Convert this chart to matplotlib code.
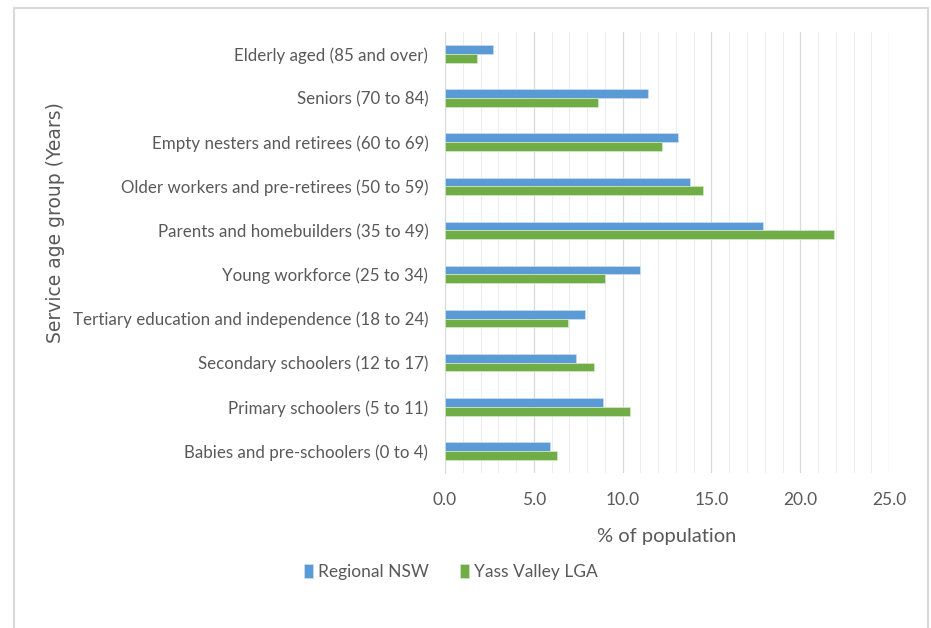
import matplotlib.pyplot as plt
import numpy as np
from matplotlib.patches import Rectangle
from matplotlib.ticker import MultipleLocator

groups = [
    "Elderly aged (85 and over)",
    "Seniors (70 to 84)",
    "Empty nesters and retirees (60 to 69)",
    "Older workers and pre-retirees (50 to 59)",
    "Parents and homebuilders (35 to 49)",
    "Young workforce (25 to 34)",
    "Tertiary education and independence (18 to 24)",
    "Secondary schoolers (12 to 17)",
    "Primary schoolers (5 to 11)",
    "Babies and pre-schoolers (0 to 4)",
]
regional_nsw = [2.7, 11.4, 13.1, 13.8, 17.9, 11.0, 7.9, 7.4, 8.9, 5.9]
yass_valley = [1.8, 8.6, 12.2, 14.5, 21.9, 9.0, 6.9, 8.4, 10.4, 6.3]

blue = "#5B9BD5"
green = "#70AD47"
txt = "#595959"
font = ["Lato", "DejaVu Sans"]

fig = plt.figure(figsize=(9.31, 6.28), dpi=100)
ax = fig.add_axes([0.478, 0.247, 0.477, 0.702])

y = np.arange(len(groups))
h = 0.2
ax.barh(y - h / 2, regional_nsw, height=h, color=blue, edgecolor="#cfe0f2",
        linewidth=0.5, label="Regional NSW", zorder=3)
ax.barh(y + h / 2, yass_valley, height=h, color=green, edgecolor="#d6e8cb",
        linewidth=0.5, label="Yass Valley LGA", zorder=3)

ax.set_ylim(len(groups) - 0.5, -0.5)
ax.set_xlim(0, 25)
ax.xaxis.set_major_locator(MultipleLocator(5))
ax.xaxis.set_minor_locator(MultipleLocator(1))
ax.grid(axis="x", which="major", color="#D9D9D9", linewidth=0.9, zorder=0)
ax.grid(axis="x", which="minor", color="#EDEDED", linewidth=0.8, zorder=0)

ax.set_yticks(y)
ax.set_yticklabels(groups, fontsize=12.2, color=txt, family=font)
ax.set_xticks(np.arange(0, 26, 5))
ax.set_xticklabels([f"{v:.1f}" for v in np.arange(0, 26, 5)], fontsize=12.5,
                   color=txt, family=font)
ax.tick_params(axis="both", which="both", length=0)
ax.tick_params(axis="y", pad=12)
ax.tick_params(axis="x", pad=14)

for s in ["top", "right", "bottom"]:
    ax.spines[s].set_visible(False)
ax.spines["left"].set_color("#D9D9D9")

ax.set_xlabel("% of population", fontsize=14.5, color=txt, family=font, labelpad=14)
fig.text(0.06, 0.645, "Service age group (Years)", rotation=90, ha="center",
         va="center", fontsize=13.5, color=txt, family="DejaVu Sans")

fig.legend(loc="center", bbox_to_anchor=(0.484, 0.089), ncol=2, frameon=False,
           prop={"family": font, "size": 12.5}, labelcolor=txt,
           handlelength=0.55, handleheight=0.9, handletextpad=0.25,
           columnspacing=1.8)

fig.patches.append(Rectangle((14 / 931, -0.05), (928 - 14) / 931, 1 - 8 / 628 + 0.05,
                             transform=fig.transFigure, fill=False,
                             edgecolor="#D9D9D9", linewidth=1.5))

fig.savefig("out.png", dpi=100)
plt.close(fig)
